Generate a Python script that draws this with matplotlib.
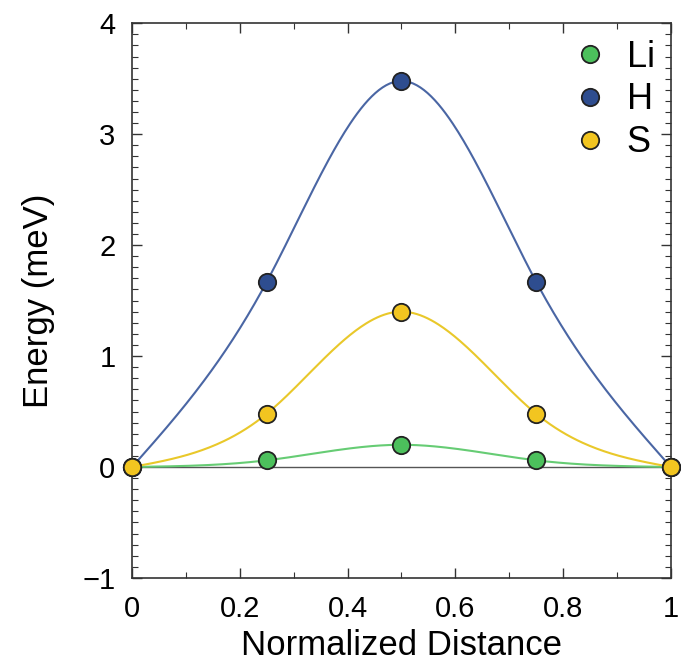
import numpy as np
import matplotlib
matplotlib.use("Agg")
import matplotlib.pyplot as plt
from matplotlib.ticker import MultipleLocator

plt.rcParams['font.family'] = ['Liberation Sans', 'DejaVu Sans']

# data
dist = [0.0, 0.25, 0.5, 0.75, 1.0]
li = [0.0, 0.06, 0.20, 0.06, 0.0]
h = [0.0, 1.67, 3.48, 1.67, 0.0]
s = [0.0, 0.48, 1.40, 0.48, 0.0]

names = ["Li", "H", "S"]
face_cols = ["#4cc05c", "#2e4d8f", "#f2c520"]
line_cols = ["#66cc74", "#4a66a4", "#e9c82a"]


def natural_spline(x, y, n=300):
    # smooth line through the points (natural cubic spline)
    x = np.asarray(x, float)
    y = np.asarray(y, float)
    k = len(x)
    hh = np.diff(x)
    A = np.zeros((k, k))
    b = np.zeros(k)
    A[0, 0] = A[-1, -1] = 1
    for i in range(1, k - 1):
        A[i, i - 1] = hh[i - 1]
        A[i, i] = 2 * (hh[i - 1] + hh[i])
        A[i, i + 1] = hh[i]
        b[i] = 3 * ((y[i + 1] - y[i]) / hh[i] - (y[i] - y[i - 1]) / hh[i - 1])
    c = np.linalg.solve(A, b)
    xs = np.linspace(x[0], x[-1], n)
    ys = np.empty_like(xs)
    for j, xv in enumerate(xs):
        i = min(np.searchsorted(x, xv, side="right") - 1, k - 2)
        dx = xv - x[i]
        bi = (y[i + 1] - y[i]) / hh[i] - hh[i] * (2 * c[i] + c[i + 1]) / 3
        di = (c[i + 1] - c[i]) / (3 * hh[i])
        ys[j] = y[i] + bi * dx + c[i] * dx ** 2 + di * dx ** 3
    return xs, ys


fig = plt.figure(figsize=(6.81, 6.65), dpi=100)
ax = fig.add_axes([0.194, 0.131, 0.791, 0.834])

ax.axhline(0, color="#555555", lw=1.0, zorder=1)

for ys_data, name, fc, lc in zip([li, h, s], names, face_cols, line_cols):
    xs, ys = natural_spline(dist, ys_data)
    ax.plot(xs, ys, color=lc, lw=1.5, zorder=2)
    ax.plot(dist, ys_data, "o", ms=12.5, mfc=fc, mec="#222222", mew=1.3,
            linestyle="none", label=name, zorder=3, clip_on=False)

ax.set_xlim(0, 1)
ax.set_ylim(-1, 4)
ax.xaxis.set_major_locator(MultipleLocator(0.2))
ax.xaxis.set_minor_locator(MultipleLocator(0.1))
ax.yaxis.set_major_locator(MultipleLocator(1))
ax.yaxis.set_minor_locator(MultipleLocator(0.1))
ax.xaxis.set_major_formatter(plt.FuncFormatter(lambda v, p: f"{v:g}"))
ax.yaxis.set_major_formatter(plt.FuncFormatter(lambda v, p: f"{v:g}".replace("-", "\u2212")))
ax.tick_params(which="both", direction="in", top=True, right=True, labelsize=21, color="#333333")
ax.tick_params(which="major", length=7, width=1, pad=12)
ax.tick_params(which="minor", length=4, width=0.8)
for sp in ax.spines.values():
    sp.set_color("#333333")
    sp.set_linewidth(1.2)

ax.set_xlabel("Normalized Distance", fontsize=25, labelpad=5)
ax.set_ylabel("Energy (meV)", fontsize=25, labelpad=20)

ax.legend(loc="upper right", frameon=False, fontsize=26, handletextpad=0.2,
          labelspacing=0.22, borderaxespad=0.05, handlelength=1.6)

fig.savefig("out.png", dpi=100)
